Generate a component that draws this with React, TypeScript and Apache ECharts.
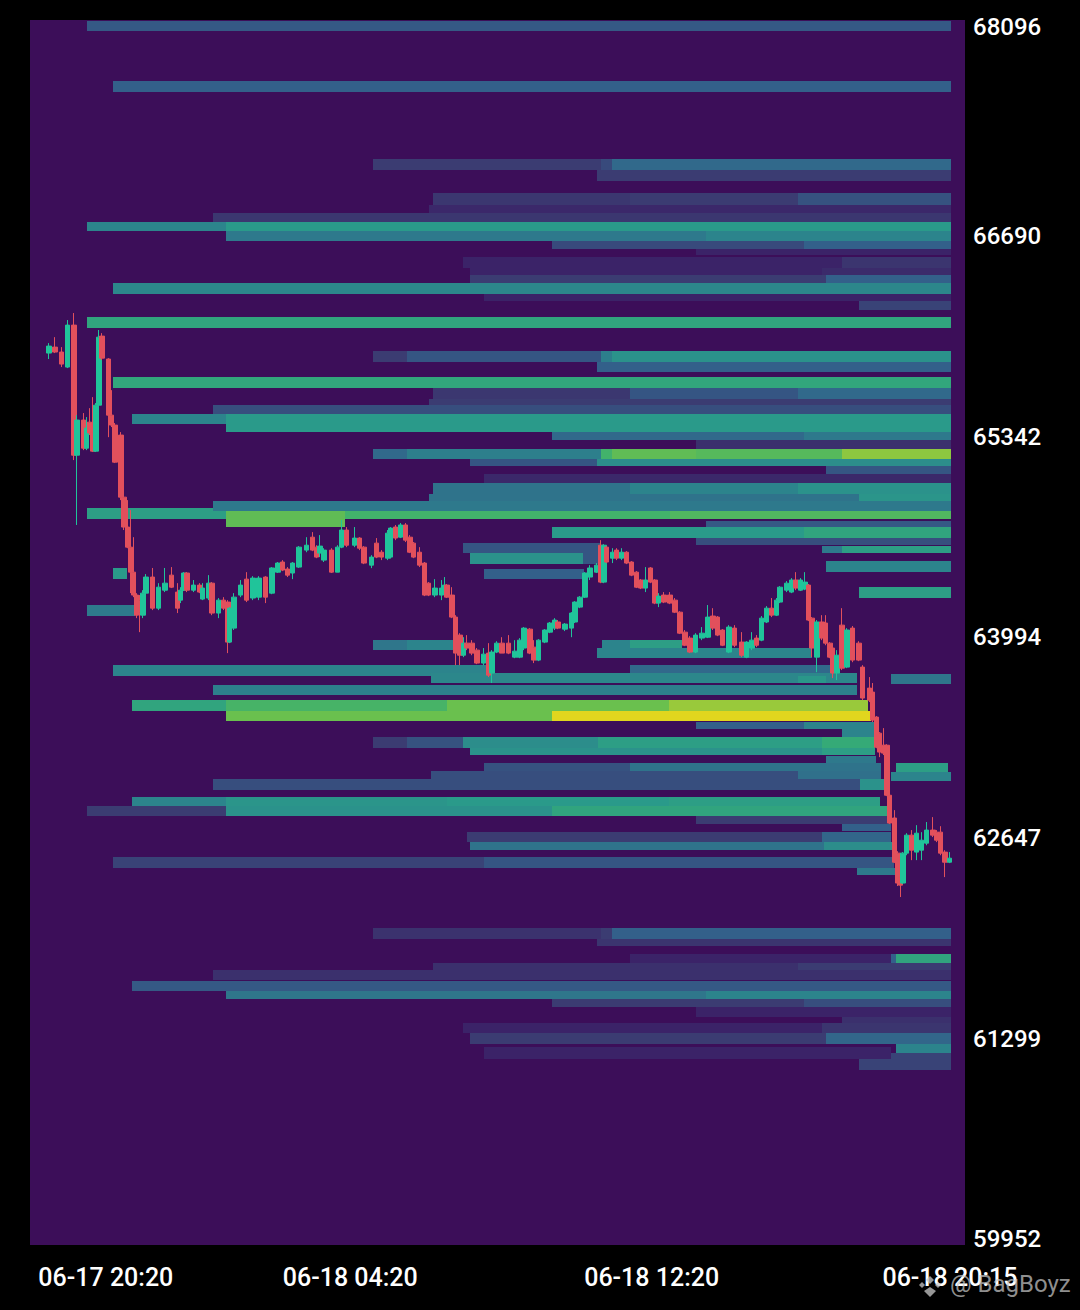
import React, { useEffect, useRef } from "react";
import * as echarts from "echarts";

const priceTicks = [68096, 66690, 65342, 63994, 62647, 61299, 59952];
const timeTicks = [0, 480, 960, 1435];
const timeLabels = ["06-17 20:20", "06-18 04:20", "06-18 12:20", "06-18 20:15"];

// [startMinute, endMinute, lowPrice, highPrice, intensity]
const heatRows: number[][] = [
  [60,1436,68069,68136,.28],[102,1436,67659,67733,.3],
  [516,879,67135,67206,.2],[879,897,67135,67206,.24],[897,1436,67135,67206,.33],
  [873,1436,67061,67135,.2],
  [611,925,66900,66981,.18],[925,1193,66900,66981,.2],[1193,1436,66900,66981,.26],
  [606,1436,66846,66900,.12],[261,1436,66786,66846,.18],
  [60,282,66725,66786,.42],[282,1436,66725,66786,.5],
  [282,1046,66658,66725,.38],[1046,1436,66658,66725,.42],
  [801,1202,66604,66658,.24],[1202,1436,66604,66658,.3],
  [1030,1436,66564,66604,.1],
  [659,1263,66477,66551,.1],[1263,1436,66477,66551,.17],
  [670,1231,66430,66477,.1],[1231,1436,66430,66477,.13],
  [670,1237,66376,66430,.2],[1237,1436,66376,66430,.3],
  [102,1436,66302,66376,.43],[693,1436,66255,66302,.1],[1290,1436,66195,66255,.22],
  [60,1436,66074,66147,.55],
  [516,570,65845,65919,.2],[570,879,65845,65919,.27],[879,897,65845,65919,.4],[897,1436,65845,65919,.47],
  [873,1436,65778,65845,.3],[102,1436,65670,65744,.56],
  [611,925,65597,65670,.18],[925,1193,65597,65670,.27],[1193,1436,65597,65670,.33],
  [606,1436,65556,65597,.2],[261,1436,65496,65556,.25],
  [132,282,65429,65496,.42],[282,1436,65429,65496,.5],[282,1436,65375,65429,.5],
  [801,1202,65321,65375,.33],[1202,1436,65321,65375,.38],
  [1030,1436,65261,65321,.15],
  [516,570,65193,65261,.33],[570,879,65193,65261,.4],[879,897,65193,65261,.62],[897,1030,65193,65261,.68],[1030,1263,65193,65261,.66],[1263,1436,65193,65261,.76],
  [670,873,65146,65193,.27],[873,1436,65146,65193,.45],
  [1237,1436,65093,65146,.27],[693,1237,65032,65093,.12],[1237,1436,65032,65093,.12],
  [611,925,64958,65032,.36],[925,1193,64958,65032,.42],[1193,1436,64958,65032,.47],
  [606,1290,64911,64958,.36],[1290,1436,64911,64958,.48],
  [60,282,64790,64864,.52],[261,1436,64844,64911,.38],
  [282,989,64790,64844,.62],[989,1436,64790,64844,.65],
  [282,471,64736,64844,.68],
  [1046,1436,64736,64777,.28],
  [801,1202,64662,64736,.5],[1202,1436,64662,64736,.55],
  [1030,1436,64616,64662,.25],
  [1231,1263,64562,64609,.38],[1263,1436,64562,64609,.52],
  [659,877,64562,64629,.27],[670,850,64488,64562,.47],[850,877,64488,64562,.27],[693,853,64387,64454,.3],
  [1237,1436,64434,64508,.42],[1290,1436,64259,64333,.52],
  [102,124,64387,64461,.5],[60,137,64138,64212,.38],
  [516,570,63910,63977,.37],[570,646,63910,63977,.42],
  [881,925,63923,63977,.42],[925,1009,63923,63977,.52],[873,1215,63856,63923,.42],
  [102,697,63735,63809,.42],[925,1247,63742,63809,.33],
  [608,1287,63688,63755,.43],[1193,1237,63688,63735,.49],
  [261,1287,63608,63675,.4],
  [132,282,63500,63574,.55],[282,634,63500,63574,.63],[634,987,63500,63574,.7],[987,1304,63500,63574,.78],
  [282,801,63433,63500,.7],[801,1309,63433,63500,.92],
  [1030,1202,63379,63426,.3],[1202,1314,63379,63426,.42],[1263,1316,63326,63379,.42],
  [516,570,63252,63326,.2],[570,659,63252,63326,.26],[659,875,63252,63326,.45],[875,1231,63252,63326,.52],[1231,1316,63252,63326,.58],
  [670,1231,63204,63252,.47],[1231,1316,63204,63252,.52],
  [1237,1318,63151,63198,.38],
  [693,925,63090,63151,.26],[925,1326,63090,63151,.36],
  [608,1193,63030,63097,.25],[1193,1326,63030,63097,.35],
  [261,1291,62969,63043,.25],[1291,1330,62969,63043,.47],
  [132,282,62862,62922,.42],[282,634,62862,62922,.48],[634,987,62862,62922,.5],[987,1323,62862,62922,.52],
  [60,282,62795,62862,.2],[282,801,62795,62862,.47],[801,1336,62795,62862,.55],
  [1030,1341,62741,62795,.2],[1263,1341,62694,62741,.3],
  [666,1231,62620,62687,.2],[1231,1341,62620,62687,.32],
  [670,1234,62566,62620,.36],[1234,1344,62566,62620,.45],
  [102,693,62445,62519,.22],[693,1346,62445,62519,.27],[1287,1352,62398,62445,.38],
  [1341,1436,63682,63749,.37],[1349,1432,63090,63151,.52],[1341,1436,63030,63090,.42],
  [516,879,61968,62042,.16],[879,897,61968,62042,.2],[897,1436,61968,62042,.3],
  [873,1436,61921,61968,.17],
  [925,1341,61793,61867,.1],[1341,1349,61793,61867,.3],[1349,1436,61793,61867,.55],
  [611,1193,61747,61807,.15],[1193,1436,61747,61807,.2],
  [261,1436,61693,61760,.15],[132,1436,61619,61686,.28],
  [282,1046,61565,61619,.37],[1046,1436,61565,61619,.42],
  [801,1202,61511,61565,.2],[1202,1436,61511,61565,.25],
  [1030,1436,61444,61511,.1],[1263,1436,61404,61444,.15],
  [659,1231,61336,61404,.1],[1231,1436,61336,61404,.17],
  [670,1237,61262,61336,.2],[1237,1436,61262,61336,.32],
  [693,1341,61162,61242,.1],[1341,1436,61162,61202,.22],[1349,1436,61202,61262,.42],
  [1290,1436,61088,61162,.22],
];

// [minute, open, close, low, high]
const candles: number[][] = [
  [0,65905,65952,65865,65972],[10,65945,65912,65905,66012],[20,65912,65831,65811,65945],[30,65811,66093,65804,66127],
  [40,66093,65219,65186,66174],[45,65219,65455,64750,65488],[55,65455,65266,65253,65502],[60,65266,65401,65253,65475],
  [65,65441,65368,65354,65535],[70,65374,65246,65240,65609],[75,65246,65555,65240,65569],[80,65555,66012,65549,66060],
  [85,66019,65871,65858,66039],[95,65865,65488,65340,65871],[100,65488,65421,65408,65656],[105,65421,65172,65166,65435],
  [115,65354,64937,64917,65374],[120,64937,64736,64716,64964],[125,64736,64601,64594,64917],[130,64601,64433,64292,64850],
  [135,64433,64279,64265,64668],[140,64279,64144,64124,64292],[145,64245,64164,64030,64279],[150,64144,64292,64124,64312],
  [155,64292,64400,64279,64420],[165,64400,64191,64178,64461],[175,64191,64332,64178,64359],[185,64312,64359,64299,64461],
  [195,64413,64332,64326,64467],[205,64299,64191,64158,64359],[210,64245,64312,64225,64332],[215,64312,64427,64306,64433],
  [220,64427,64312,64299,64433],[230,64312,64346,64299,64380],[240,64346,64299,64292,64359],[245,64252,64326,64245,64359],
  [255,64259,64359,64245,64413],[260,64359,64158,64144,64366],[270,64158,64245,64124,64259],[278,64245,64191,64178,64265],
  [285,64232,63963,63889,64245],[288,63963,64191,63956,64198],[295,64057,64265,64044,64292],[305,64279,64346,64265,64380],
  [315,64386,64245,64232,64433],[325,64259,64393,64245,64406],[335,64265,64393,64245,64406],[345,64400,64265,64225,64406],
  [355,64292,64461,64285,64467],[365,64433,64494,64427,64501],[372,64501,64447,64440,64514],[380,64454,64413,64400,64467],
  [388,64427,64494,64386,64501],[398,64467,64601,64461,64608],[410,64581,64614,64567,64668],[420,64668,64581,64574,64702],
  [426,64601,64534,64527,64614],[432,64561,64608,64534,64682],[438,64514,64581,64501,64594],[450,64581,64433,64427,64594],
  [460,64433,64601,64433,64614],[466,64601,64716,64594,64783],[474,64716,64614,64601,64736],[487,64614,64662,64601,64736],
  [495,64662,64594,64581,64668],[502,64601,64494,64487,64608],[514,64480,64534,64460,64547],[522,64628,64534,64527,64662],
  [530,64567,64534,64514,64581],[540,64527,64695,64514,64716],[544,64534,64729,64527,64736],[552,64736,64662,64648,64750],
  [560,64668,64750,64662,64763],[568,64750,64648,64635,64763],[575,64668,64567,64561,64682],[581,64628,64534,64527,64635],
  [590,64567,64480,64467,64601],[598,64494,64279,64272,64501],[605,64359,64279,64272,64366],[615,64279,64326,64265,64386],
  [625,64279,64326,64245,64380],[630,64285,64346,64279,64400],[634,64346,64265,64259,64353],[642,64279,64131,64124,64332],
  [648,64131,63889,63808,64144],[655,64010,63875,63808,64023],[660,63875,63956,63862,63996],[666,63956,63923,63909,64010],
  [674,63956,63889,63875,63976],[682,63909,63822,63815,63923],[692,63822,63882,63808,63923],[700,63889,63741,63728,63956],
  [706,63755,63896,63688,63909],[713,63896,63956,63889,63969],[722,63956,63889,63889,63996],[732,63956,63889,63882,64010],
  [742,63862,63902,63855,63976],[750,63862,63976,63855,63990],[757,63923,64057,63909,64064],[766,64050,63889,63882,64057],
  [773,63929,63842,63822,63976],[780,63842,63976,63835,63983],[790,63963,64044,63956,64050],[798,64030,64091,64023,64098],
  [805,64057,64111,64044,64124],[811,64098,64057,64050,64111],[822,64050,64084,64037,64091],[832,64057,64158,63996,64164],
  [838,64098,64232,64091,64238],[846,64198,64265,64191,64272],[854,64265,64427,64259,64433],[862,64400,64461,64380,64480],
  [873,64433,64480,64427,64494],[879,64614,64366,64359,64648],[884,64366,64614,64359,64621],[888,64601,64501,64494,64608],
  [898,64527,64567,64494,64594],[904,64581,64527,64514,64594],[912,64527,64567,64514,64594],[920,64567,64494,64487,64574],
  [928,64501,64413,64406,64507],[936,64433,64332,64326,64440],[943,64380,64326,64319,64386],[950,64326,64380,64299,64467],
  [958,64461,64366,64359,64467],[965,64380,64225,64218,64386],[971,64225,64272,64198,64292],[980,64279,64232,64225,64299],
  [989,64279,64225,64218,64299],[997,64245,64164,64158,64259],[1005,64164,64023,64017,64171],[1013,64030,63942,63936,64044],
  [1021,63990,63896,63889,64003],[1030,63896,64010,63889,64023],[1040,63990,64023,63976,64064],[1050,63996,64131,63990,64212],
  [1058,64138,64057,64044,64191],[1065,64131,64010,64003,64138],[1073,64044,63942,63936,64050],[1083,63896,64064,63889,64077],
  [1092,64057,63942,63929,64077],[1104,63963,63875,63862,64030],[1111,63862,63963,63855,63969],[1120,63923,63976,63909,64030],
  [1127,63990,63942,63929,64010],[1135,63976,64124,63969,64138],[1143,64098,64191,64091,64205],[1151,64191,64144,64131,64259],
  [1159,64144,64245,64138,64259],[1164,64232,64332,64225,64339],[1175,64312,64359,64299,64373],[1183,64299,64380,64292,64393],
  [1190,64380,64326,64312,64433],[1197,64312,64380,64306,64393],[1204,64319,64366,64312,64433],[1210,64346,64111,64104,64353],
  [1215,64124,63923,63862,64131],[1223,63862,64098,63761,64111],[1231,64098,63990,63976,64144],[1237,64091,63956,63942,64144],
  [1244,63956,63862,63855,63963],[1248,63923,63755,63721,63929],[1255,63755,63875,63708,63909],[1263,64077,63788,63775,64191],
  [1271,63795,64044,63788,64057],[1280,64057,63842,63828,64071],[1290,63956,63842,63835,63969],[1296,63795,63587,63573,63808],
  [1307,63654,63573,63560,63728],[1312,63627,63439,63426,63688],[1318,63459,63257,63250,63466],[1323,63351,63224,63190,63358],
  [1330,63270,63217,63204,63385],[1335,63270,62934,62928,63277],[1339,62934,62747,62740,62941],[1347,62781,62484,62478,62834],
  [1352,62545,62344,62324,62558],[1356,62384,62330,62250,62398],[1360,62344,62545,62337,62552],[1366,62545,62666,62531,62679],
  [1374,62666,62565,62498,62700],[1382,62552,62679,62498,62733],[1390,62565,62632,62498,62686],[1398,62612,62700,62598,62754],
  [1408,62700,62666,62653,62787],[1414,62686,62632,62619,62700],[1420,62686,62545,62531,62726],[1427,62552,62484,62384,62565],
  [1434,62484,62511,62478,62552],
];

const heatColors = ["#3c0e59","#3b2368","#3b3c72","#33608a","#2d7f8c","#2a9a8a","#38ae72","#6ac04e","#a5cb36","#dcd41f","#f5e01a"];

export default function App() {
  const ref = useRef<HTMLDivElement>(null);
  useEffect(() => {
    document.body.style.margin = "0";
    document.body.style.background = "#000";
    const chart = echarts.init(ref.current!, undefined, { renderer: "svg" });
    chart.setOption({
      animation: false,
      backgroundColor: "#000",
      grid: { left: 30, top: 20, width: 935, height: 1225, show: true, backgroundColor: "#3c0e59", borderWidth: 0 },
      xAxis: {
        type: "value", min: -30, max: 1459,
        axisLine: { show: false }, axisTick: { show: false }, splitLine: { show: false },
        axisLabel: {
          customValues: timeTicks, margin: 20, color: "#fff",
          fontFamily: "Roboto", fontSize: 25, fontWeight: 500,
          formatter: (v: number) => {
            const i = timeTicks.indexOf(v);
            return i === 0 ? `{first|${timeLabels[i]}}` : timeLabels[i];
          },
          rich: { first: { padding: [0, 0, 0, 114], color: "#fff", fontFamily: "Roboto", fontSize: 25, fontWeight: 500 } },
        },
      },
      yAxis: {
        type: "value", position: "right", min: 59912, max: 68143,
        axisLine: { show: false }, axisTick: { show: false }, splitLine: { show: false },
        axisLabel: { customValues: priceTicks, margin: 8, color: "#fff", fontFamily: "Roboto", fontSize: 24, fontWeight: 500, formatter: (v: number) => String(v) },
      },
      visualMap: { show: false, seriesIndex: 0, dimension: 4, min: 0, max: 1, inRange: { color: heatColors } },
      series: [
        {
          type: "custom", data: heatRows, encode: { x: [0, 1], y: [2, 3] }, z: 1, silent: true, clip: true,
          renderItem: (_: any, api: any) => {
            const a = api.coord([api.value(0), api.value(3)]);
            const b = api.coord([api.value(1), api.value(2)]);
            const x0 = Math.round(a[0]), y0 = Math.round(a[1]);
            return {
              type: "rect",
              shape: { x: x0, y: y0, width: Math.round(b[0]) - x0, height: Math.round(b[1]) - y0 },
              style: { fill: api.visual("color") },
            };
          },
        },
        {
          type: "candlestick", data: candles, z: 3, barWidth: 5, silent: true,
          itemStyle: { color: "#20c49a", color0: "#e2505c", borderColor: "#20c49a", borderColor0: "#e2505c", borderWidth: 1 },
        },
      ],
      graphic: [
        { type: "text", x: 950, y: 1272, z: 50, style: { text: "@ BagBoyz", fill: "rgba(200,200,200,0.72)", font: '400 24px Roboto' } },
        { type: "polygon", z: 50, shape: { points: [[930, 1276], [934, 1280], [930, 1284], [926, 1280]] }, style: { fill: "rgba(200,200,200,0.75)" } },
        { type: "polygon", z: 50, shape: { points: [[922, 1282], [925, 1285], [922, 1288], [919, 1285]] }, style: { fill: "rgba(200,200,200,0.75)" } },
        { type: "polygon", z: 50, shape: { points: [[938, 1282], [941, 1285], [938, 1288], [935, 1285]] }, style: { fill: "rgba(200,200,200,0.75)" } },
        { type: "polygon", z: 50, shape: { points: [[930, 1287], [936, 1291], [930, 1297], [924, 1291]] }, style: { fill: "rgba(200,200,200,0.75)" } },
      ],
    });
    return () => chart.dispose();
  }, []);
  return <div ref={ref} style={{ width: 1080, height: 1310 }} />;
}
